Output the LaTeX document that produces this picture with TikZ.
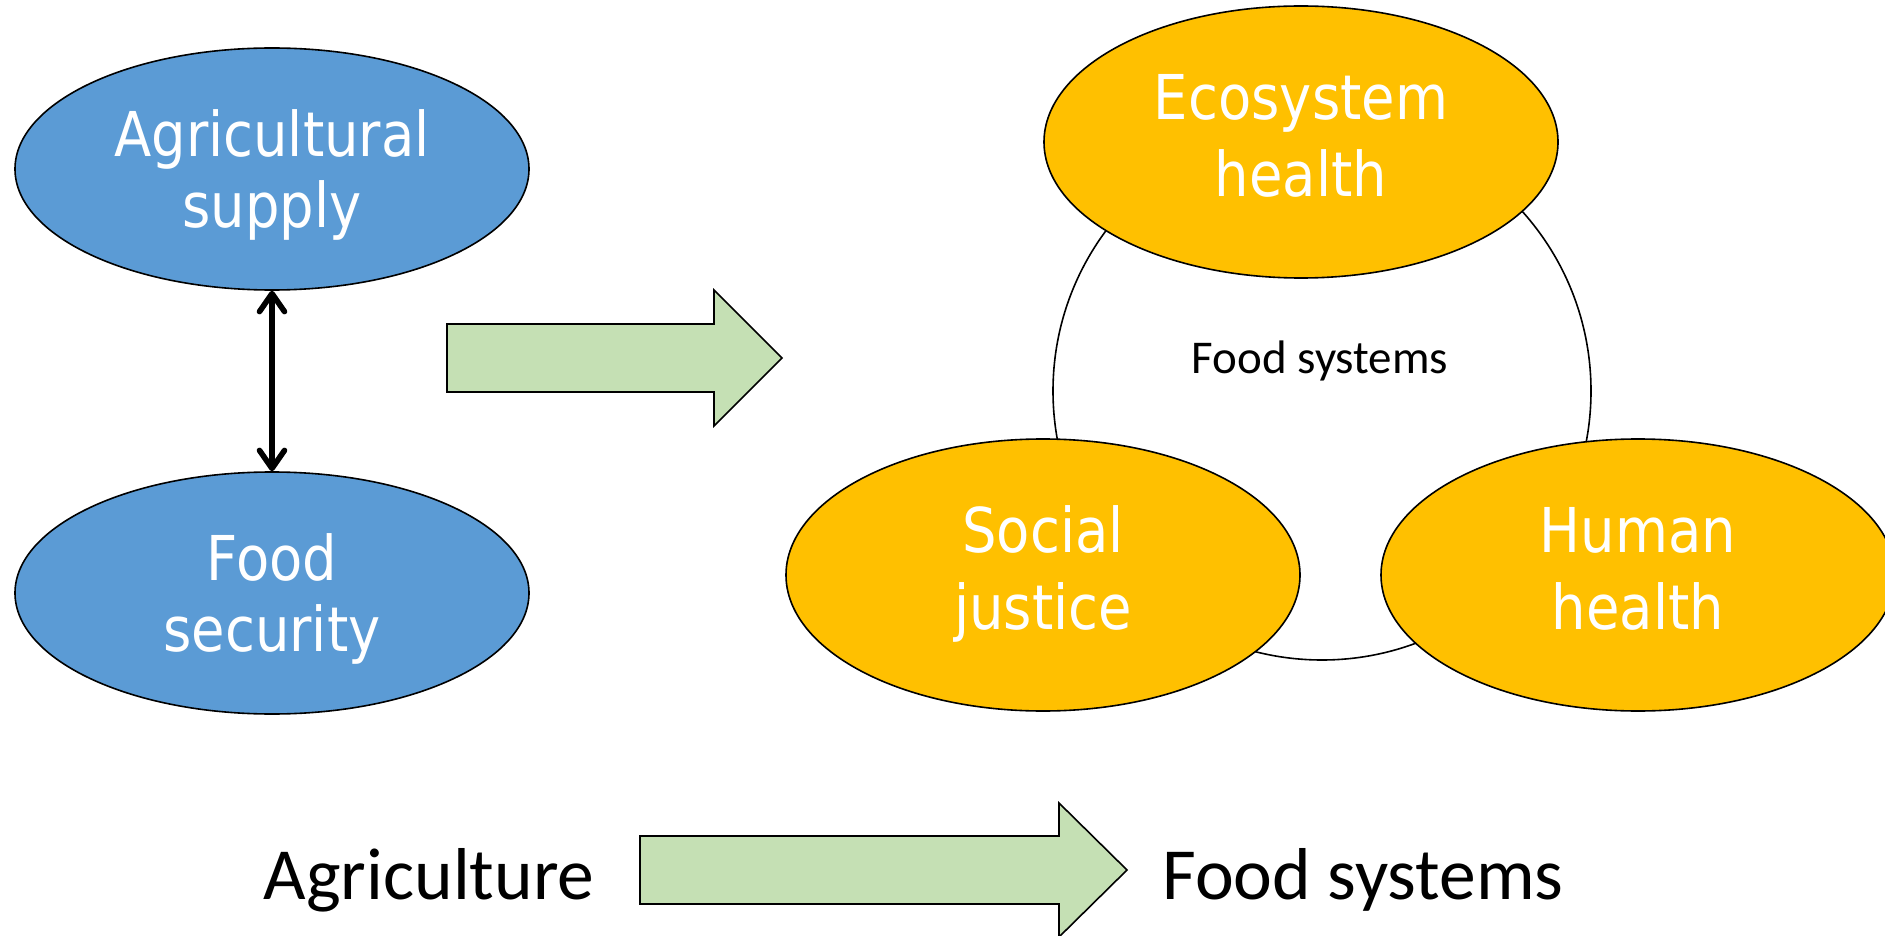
\documentclass[tikz,border=0pt]{standalone}
\usepackage{fontspec}
\usepackage{tikz}
\usetikzlibrary{arrows.meta,shapes}
\newfontfamily\ovalfont[FakeStretch=0.88]{DejaVu Sans}
\newfontfamily\calfont{Carlito}
\definecolor{ovalblue}{HTML}{5B9BD5}
\definecolor{ovalgold}{HTML}{FFC000}
\definecolor{arrowgreen}{HTML}{C5E0B4}
\newcommand{\ovallines}[3]{\raisebox{#1}[0pt][0pt]{\begin{tabular}[t]{@{}c@{}}#2\\#3\end{tabular}}}

\begin{document}
\begin{tikzpicture}[x=0.5pt, y=-0.5pt,
  oval/.style={ellipse, draw=black, line width=0.8pt, text=white, inner sep=0pt, minimum width=257pt},
  blueoval/.style={oval, fill=ovalblue, minimum height=121pt, font=\ovalfont\fontsize{30.9}{35.5}\selectfont},
  goldoval/.style={oval, fill=ovalgold, minimum height=136pt, font=\ovalfont\fontsize{30.9}{38.5}\selectfont},
  bigarrow/.style={draw=black, line width=0.8pt, fill=arrowgreen, line join=miter},
  barb/.style={{Straight Barb[length=9pt,width=12.5pt,round]}-{Straight Barb[length=9pt,width=12.5pt,round]}, line width=2.8pt},
  caltext/.style={font=\calfont\fontsize{36.75}{44}\selectfont, anchor=base}]

\useasboundingbox (0,0) rectangle (1885,936);

% agriculture side
\node[blueoval] (supply) at (272,169) {\ovallines{6.35pt}{Agricultural}{supply}};
\node[blueoval] (security) at (272,593) {\ovallines{6.35pt}{Food}{security}};
\draw[barb] (supply.south) -- (security.north);

\draw[bigarrow] (447,324) -- (714,324) -- (714,290) -- (782,358) -- (714,426) -- (714,392) -- (447,392) -- cycle;

% food systems side
\node[circle, draw, line width=0.8pt, minimum size=269pt, inner sep=0pt] (foodsys) at (1322,391) {};
\node[font=\calfont\fontsize{23.5}{28}\selectfont, anchor=base] (foodsyslabel) at (1320,373) {Food systems};

\node[goldoval] (eco) at (1301,142) {\ovallines{11.35pt}{Ecosystem}{health}};
\node[goldoval] (justice) at (1043,575) {\ovallines{11.35pt}{Social}{justice}};
\node[goldoval] (human) at (1638,575) {\ovallines{11.35pt}{Human}{health}};

% bottom line
\node[caltext] (agri) at (429,899) {Agriculture};
\draw[bigarrow] (640,836) -- (1059,836) -- (1059,803) -- (1127,870) -- (1059,937) -- (1059,904) -- (640,904) -- cycle;
\node[caltext] (foodsysbottom) at (1363,899) {Food systems};

\end{tikzpicture}
\end{document}
